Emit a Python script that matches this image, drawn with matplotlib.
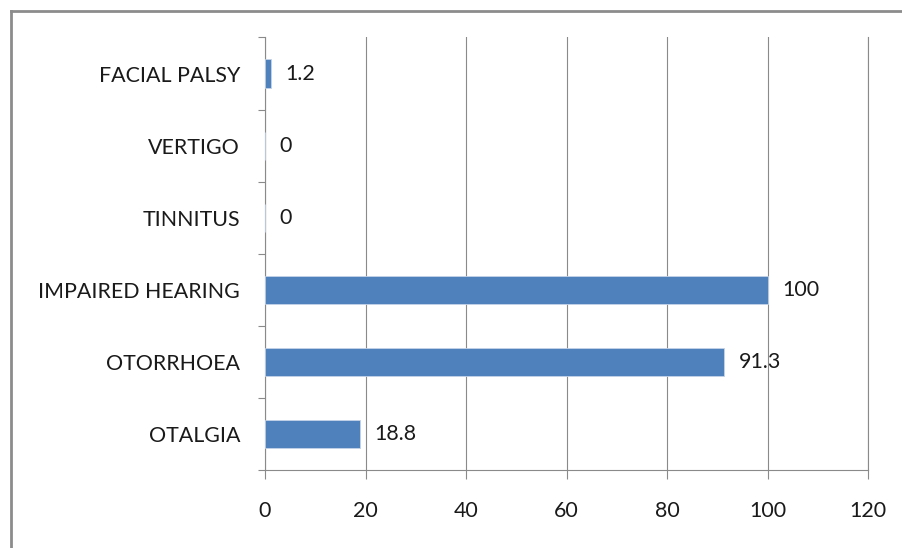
import matplotlib.pyplot as plt
from matplotlib.lines import Line2D

# symptom frequency (%)
symptoms = ['OTALGIA', 'OTORRHOEA', 'IMPAIRED HEARING', 'TINNITUS', 'VERTIGO', 'FACIAL PALSY']
percent = [18.8, 91.3, 100, 0, 0, 1.2]
value_labels = ['18.8', '91.3', '100', '0', '0', '1.2']
x_ticks = [0, 20, 40, 60, 80, 100, 120]

plt.rcParams['font.family'] = ['Lato', 'DejaVu Sans']
grey = '#8a8a8a'
text_col = '#1a1a1a'
fs = 15.4

fig = plt.figure(figsize=(9.03, 5.48), dpi=100)
ax = fig.add_axes([0.2935, 0.1423, 0.6678, 0.7893])

pos = list(range(len(symptoms)))
ax.barh(pos, percent, height=0.39, color='#4F81BD', edgecolor='#c5d3e8',
        linewidth=0.6, zorder=3)

for p, v, lab in zip(pos, percent, value_labels):
    ax.annotate(lab, xy=(v, p), xytext=(10.5, 0), textcoords='offset points',
                ha='left', va='center', fontsize=fs, color=text_col)

ax.set_xlim(0, 120)
ax.set_ylim(-0.5, len(symptoms) - 0.5)
ax.set_xticks(x_ticks)
ax.set_yticks(pos)
ax.set_yticklabels(symptoms)
ax.set_yticks([p - 0.5 for p in pos] + [len(symptoms) - 0.5], minor=True)

ax.tick_params(axis='x', length=6.5, width=0.8, color=grey, pad=16,
               labelsize=fs, labelcolor=text_col)
ax.tick_params(axis='y', which='major', length=0, pad=18, labelsize=fs,
               labelcolor=text_col)
ax.tick_params(axis='y', which='minor', length=5, width=0.8, color=grey)

ax.grid(axis='x', color=grey, linewidth=0.8, zorder=0)
ax.spines['top'].set_visible(False)
for side in ['left', 'bottom', 'right']:
    ax.spines[side].set_color(grey)
    ax.spines[side].set_linewidth(0.8)

# outer frame, top and left edges
fig.add_artist(Line2D([11.5 / 903, 1], [1 - 10.5 / 548] * 2, color='#8c8c8c',
                      linewidth=2, transform=fig.transFigure))
fig.add_artist(Line2D([11.5 / 903] * 2, [0, 1 - 10.5 / 548], color='#8c8c8c',
                      linewidth=2, transform=fig.transFigure))

plt.savefig('out.png', dpi=100)
